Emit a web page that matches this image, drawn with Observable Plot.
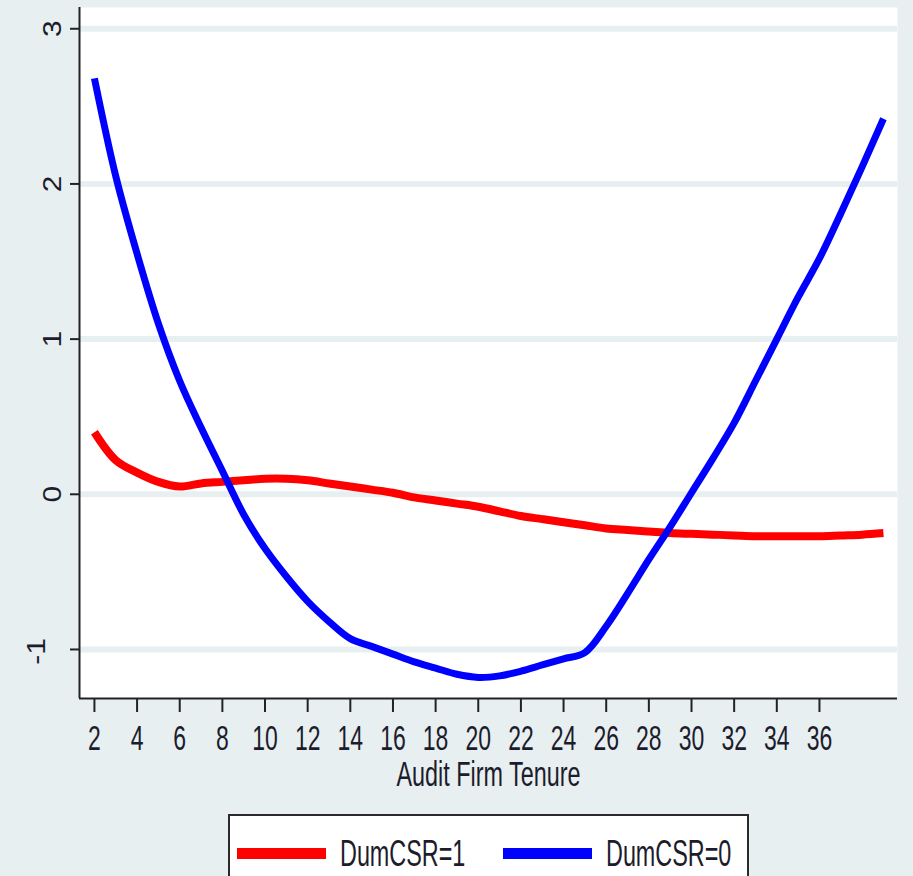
<!DOCTYPE html>
<html>
<head>
<meta charset="utf-8">
<script src="https://cdn.jsdelivr.net/npm/d3@7"></script>
<script src="https://cdn.jsdelivr.net/npm/@observablehq/plot@0.6"></script>
<style>
  html, body { margin: 0; padding: 0; background: #e8eff1; width: 913px; height: 876px; overflow: hidden; }
  #wrap { position: relative; width: 913px; height: 876px; }
  #chart svg { display: block; }
  #legend { position: absolute; left: 228px; top: 814px; width: 521px; height: 90px; background: #fff;
            border: 2px solid #2a2a2a; box-sizing: border-box; }
  .sw { position: absolute; height: 11px; top: 32px; width: 89px; }
  .lt { position: absolute; top: 19px; font-family: "Liberation Sans", Arial, sans-serif;
        font-size: 28.5px; color: #1c1c2c; line-height: 36px; transform: scale(0.82, 1.3); transform-origin: 0 50%; white-space: nowrap; }
</style>
</head>
<body>
<div id="wrap">
  <div id="chart"></div>
  <div id="legend"></div>
</div>
<script>
// ---- data ----
const tenure = [2,3,4,5,6,7,8,9,10,11,12,13,14,15,16,17,18,19,20,21,22,23,24,25,26,27,28,29,30,31,32,33,34,35,36,37,38,39];
const dumCSR1 = [0.40,0.22,0.14,0.08,0.05,0.07,0.08,0.09,0.10,0.10,0.09,0.07,0.05,0.03,0.01,-0.02,-0.04,-0.06,-0.08,-0.11,-0.14,-0.16,-0.18,-0.20,-0.22,-0.23,-0.24,-0.25,-0.255,-0.26,-0.265,-0.27,-0.27,-0.27,-0.27,-0.265,-0.26,-0.25];
const dumCSR0 = [2.68,2.05,1.55,1.10,0.73,0.43,0.15,-0.13,-0.35,-0.53,-0.69,-0.82,-0.93,-0.98,-1.03,-1.08,-1.12,-1.16,-1.18,-1.17,-1.14,-1.10,-1.06,-1.02,-0.85,-0.64,-0.42,-0.21,0.01,0.23,0.46,0.73,1.00,1.27,1.52,1.81,2.11,2.42];
const xTicks = [2,4,6,8,10,12,14,16,18,20,22,24,26,28,30,32,34,36];
const yTicks = [-1,0,1,2,3];
const xTitle = "Audit Firm Tenure";
const seriesNames = ["DumCSR=1", "DumCSR=0"];
const seriesColors = ["#ff0000", "#0000ff"];

const BG = "#e8eff1";
const REG = '"Liberation Sans", Arial, sans-serif';
const TXT = "#1c1c2c";

const rows1 = tenure.map((t, i) => ({t, v: dumCSR1[i], s: seriesNames[0]}));
const rows0 = tenure.map((t, i) => ({t, v: dumCSR0[i], s: seriesNames[1]}));

const X0 = 1.3, X1 = 39.66, Y0 = -1.316, Y1 = 3.137;

const svg = Plot.plot({
  width: 913,
  height: 800,
  marginLeft: 79,
  marginRight: 16,
  marginTop: 7,
  marginBottom: 102,
  style: {background: "transparent", fontFamily: REG, color: TXT, overflow: "visible"},
  x: {domain: [X0, X1]},
  y: {domain: [Y0, Y1]},
  marks: [
    Plot.frame({fill: "white", stroke: "none"}),
    Plot.gridY(yTicks, {stroke: BG, strokeOpacity: 1, strokeWidth: 6}),
    Plot.line(rows1, {x: "t", y: "v", stroke: seriesColors[0], strokeWidth: 8, curve: "catmull-rom", strokeLinejoin: "round", strokeLinecap: "butt"}),
    Plot.line(rows0, {x: "t", y: "v", stroke: seriesColors[1], strokeWidth: 7, curve: "catmull-rom", strokeLinejoin: "round", strokeLinecap: "butt"}),
    Plot.ruleX([X0], {stroke: "#222", strokeWidth: 2}),
    Plot.ruleY([Y0], {stroke: "#222", strokeWidth: 2}),
    Plot.axisX(xTicks, {tickSize: 14, tickFormat: () => "", label: null, stroke: "#222", strokeWidth: 2}),
    Plot.axisY(yTicks, {tickSize: 9, tickFormat: () => "", label: null, stroke: "#222", strokeWidth: 2}),
    Plot.text(yTicks.filter(d => d >= 0), {y: d => d, text: d => String(d), frameAnchor: "left", dx: -27, rotate: -90, textAnchor: "middle", lineAnchor: "middle", fontFamily: REG, fontSize: 26, fill: TXT}),
    Plot.text(yTicks.filter(d => d < 0), {y: d => d, text: d => String(d), frameAnchor: "left", dx: -43, dy: 2, rotate: -90, textAnchor: "middle", lineAnchor: "middle", fontFamily: REG, fontSize: 26, fill: TXT}),
    Plot.text(xTicks, {x: d => d, text: d => String(d), frameAnchor: "bottom", dy: 41, textAnchor: "middle", lineAnchor: "middle", fontFamily: REG, fontSize: 28, fill: TXT}),
    Plot.text([xTitle], {text: d => d, frameAnchor: "bottom", dy: 76, textAnchor: "middle", lineAnchor: "middle", fontFamily: REG, fontSize: 28.5, fill: TXT})
  ]
});

// stretch text glyphs (reference text is tall and narrow)
function stretch(g, sx, sy) {
  g.querySelectorAll("text").forEach(t => {
    const tr = t.getAttribute("transform");
    if (tr) t.setAttribute("transform", tr + ` scale(${sx},${sy})`);
    else {
      const x = +t.getAttribute("x") || 0, y = +t.getAttribute("y") || 0;
      t.setAttribute("x", 0); t.setAttribute("y", 0);
      t.setAttribute("transform", `translate(${x},${y}) scale(${sx},${sy})`);
    }
  });
}
const tg = svg.querySelectorAll('g[aria-label="text"]');
if (tg.length >= 4) {
  stretch(tg[0], 1.15, 1);
  stretch(tg[1], 1.15, 1);
  stretch(tg[2], 0.82, 1.22);
  stretch(tg[3], 0.82, 1.22);
}
document.getElementById("chart").appendChild(svg);

// legend
const legend = document.getElementById("legend");
const swLeft = [7, 273], txLeft = [110, 376];
seriesNames.forEach((name, i) => {
  const sw = document.createElement("div");
  sw.className = "sw";
  sw.style.left = swLeft[i] + "px";
  sw.style.background = seriesColors[i];
  legend.appendChild(sw);
  const tx = document.createElement("div");
  tx.className = "lt";
  tx.style.left = txLeft[i] + "px";
  tx.textContent = name;
  legend.appendChild(tx);
});
</script>
</body>
</html>
